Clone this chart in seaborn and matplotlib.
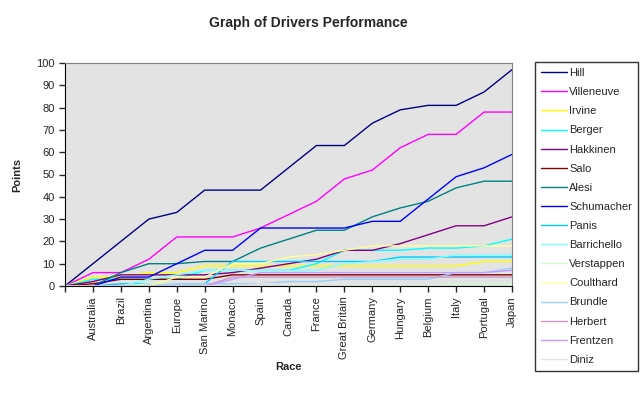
import numpy as np
import pandas as pd
import matplotlib
matplotlib.use("Agg")
import matplotlib.pyplot as plt
import seaborn as sns

# races (first slot is the start of the season, no label)
races = ["", "Australia", "Brazil", "Argentina", "Europe", "San Marino", "Monaco",
         "Spain", "Canada", "France", "Great Britain", "Germany", "Hungary",
         "Belgium", "Italy", "Portugal", "Japan"]

# cumulative points per driver
hill = [0, 10, 20, 30, 33, 43, 43, 43, 53, 63, 63, 73, 79, 81, 81, 87, 97]
villeneuve = [0, 6, 6, 12, 22, 22, 22, 26, 32, 38, 48, 52, 62, 68, 68, 78, 78]
irvine = [0, 4, 4, 6, 6, 9, 9, 9, 9, 9, 9, 9, 9, 9, 9, 11, 11]
berger = [0, 3, 3, 3, 3, 7, 7, 7, 7, 10, 16, 16, 16, 17, 17, 18, 21]
hakkinen = [0, 2, 5, 5, 5, 5, 6, 8, 10, 12, 16, 16, 19, 23, 27, 27, 31]
salo = [0, 1, 3, 3, 3, 3, 5, 5, 5, 5, 5, 5, 5, 5, 5, 5, 5]
alesi = [0, 0, 6, 10, 10, 11, 11, 17, 21, 25, 25, 31, 35, 38, 44, 47, 47]
schumacher = [0, 0, 4, 4, 10, 16, 16, 26, 26, 26, 26, 29, 29, 39, 49, 53, 59]
panis = [0, 0, 1, 1, 1, 1, 11, 11, 11, 11, 11, 11, 13, 13, 13, 13, 13]
barrichello = [0, 0, 0, 3, 5, 7, 7, 7, 7, 7, 10, 11, 12, 12, 14, 14, 14]
verstappen = [0, 0, 0, 1, 1, 1, 1, 1, 1, 1, 1, 1, 1, 1, 1, 1, 1]
coulthard = [0, 0, 0, 0, 4, 4, 10, 10, 13, 14, 16, 18, 18, 18, 18, 18, 18]
brundle = [0, 0, 0, 0, 1, 1, 1, 1, 2, 2, 3, 3, 3, 3, 6, 6, 8]
herbert = [0, 0, 0, 0, 0, 0, 4, 4, 4, 4, 4, 4, 4, 4, 4, 4, 4]
frentzen = [0, 0, 0, 0, 0, 0, 3, 6, 6, 6, 6, 6, 6, 6, 6, 6, 7]
diniz = [0, 0, 0, 0, 0, 0, 0, 1, 1, 1, 1, 1, 1, 1, 2, 2, 2]

drivers = ["Hill", "Villeneuve", "Irvine", "Berger", "Hakkinen", "Salo", "Alesi",
           "Schumacher", "Panis", "Barrichello", "Verstappen", "Coulthard",
           "Brundle", "Herbert", "Frentzen", "Diniz"]
points = [hill, villeneuve, irvine, berger, hakkinen, salo, alesi, schumacher,
          panis, barrichello, verstappen, coulthard, brundle, herbert, frentzen, diniz]
colors = ["#000080", "#FF00FF", "#FFFF00", "#00FFFF", "#800080", "#800000",
          "#008080", "#0000FF", "#00CCFF", "#80FFFF", "#CCFFCC", "#FFFF99",
          "#99CCFF", "#CC99CC", "#CC99FF", "#E3E3E3"]

rows = []
for name, vals in zip(drivers, points):
    for i, v in enumerate(vals):
        rows.append({"Race": i, "Points": v, "Driver": name})
df = pd.DataFrame(rows)

sns.set_style("white")
plt.rcParams["font.family"] = ["Liberation Sans", "DejaVu Sans"]

fig = plt.figure(figsize=(6.42, 3.93), dpi=100)
ax = fig.add_axes([65 / 642, 1 - 286 / 393, (512 - 65) / 642, (286 - 63) / 393])
ax.set_facecolor("#E3E3E3")

sns.lineplot(data=df, x="Race", y="Points", hue="Driver", hue_order=drivers,
             palette=colors, linewidth=1, ax=ax)

ax.set_xlim(0, len(races) - 1)
ax.set_ylim(0, 100)
ax.set_yticks(np.arange(0, 101, 10))
ax.set_xticks(range(len(races)))
ax.set_xticklabels(races, rotation=90, fontsize=8)
ax.tick_params(axis="y", labelsize=8, length=4, direction="out", left=True, width=1)
ax.tick_params(axis="x", length=4, direction="out", bottom=True, width=1)
for side in ["top", "right"]:
    ax.spines[side].set_color("#808080")
    ax.spines[side].set_visible(True)
for side in ["left", "bottom"]:
    ax.spines[side].set_color("black")
    ax.spines[side].set_visible(True)

ax.set_xlabel("Race", fontsize=8, fontweight="bold")
ax.set_ylabel("Points", fontsize=8, fontweight="bold")
ax.xaxis.set_label_coords(0.5, -0.34)
ax.yaxis.set_label_coords(-0.095, 0.5)

fig.text(308 / 642, 1 - 23 / 393, "Graph of Drivers Performance",
         ha="center", va="center", fontsize=10, fontweight="bold")

# legend box to the right, like the spreadsheet chart
handles, labels = ax.get_legend_handles_labels()
ax.get_legend().remove()
leg = fig.legend(handles, labels, loc="upper left",
                 bbox_to_anchor=(535 / 642, 1 - 62 / 393), fontsize=8,
                 frameon=True, fancybox=False, edgecolor="black",
                 handlelength=2.3, handletextpad=0.25, labelspacing=0.82,
                 borderpad=0.55, borderaxespad=0)
leg.get_frame().set_linewidth(1)

fig.savefig("out.png", dpi=100)
